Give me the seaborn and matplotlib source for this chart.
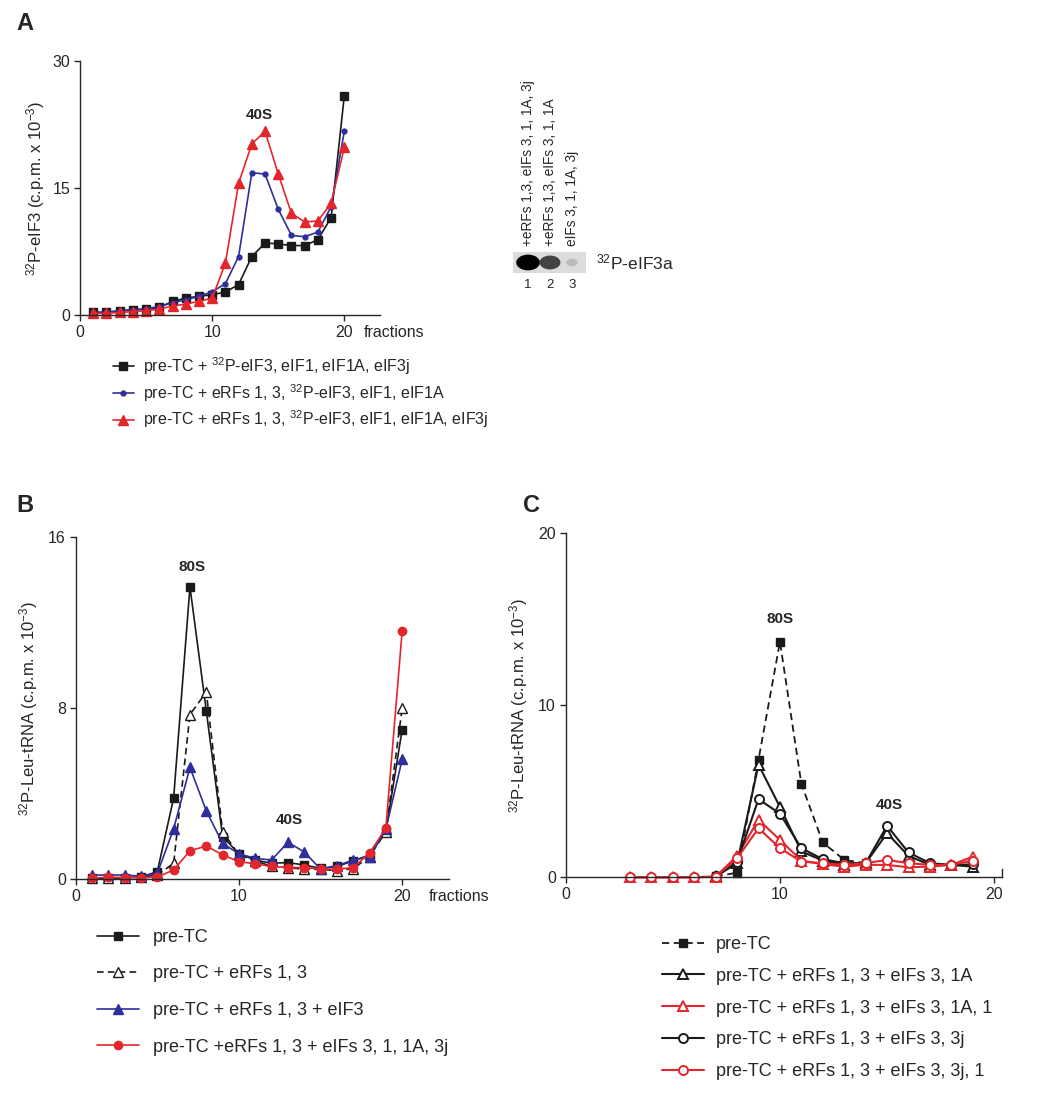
import numpy as np
import pandas as pd
import matplotlib
matplotlib.use('Agg')
import matplotlib.pyplot as plt
import seaborn as sns
from matplotlib.path import Path
from matplotlib.transforms import Affine2D

# ---- data ----
fractions = list(range(1, 21))

# panel A: 32P-eIF3 (c.p.m. x 10^-3)
a_pretc = [0.3, 0.3, 0.5, 0.6, 0.7, 0.9, 1.6, 2.0, 2.2, 2.4, 2.7, 3.6, 6.9, 8.5, 8.4, 8.2, 8.2, 8.9, 11.5, 25.9]
a_erfs = [0.3, 0.35, 0.5, 0.6, 0.75, 1.0, 1.45, 1.8, 2.2, 2.75, 3.7, 6.9, 16.8, 16.65, 12.5, 9.4, 9.25, 9.8, 12.8, 21.7]
a_erfs_3j = [0.2, 0.2, 0.3, 0.4, 0.5, 0.7, 1.05, 1.3, 1.6, 2.0, 6.1, 15.55, 20.2, 21.7, 16.65, 12.0, 11.0, 11.1, 13.2, 19.8]
a_labels = [r'pre-TC + $^{32}$P-eIF3, eIF1, eIF1A, eIF3j',
            r'pre-TC + eRFs 1, 3, $^{32}$P-eIF3, eIF1, eIF1A',
            r'pre-TC + eRFs 1, 3, $^{32}$P-eIF3, eIF1, eIF1A, eIF3j']

# gel lanes
gel_lanes = [1, 2, 3]
gel_band = [1.0, 0.7, 0.12]
gel_labels = ['+eRFs 1,3, eIFs 3, 1, 1A, 3j', '+eRFs 1,3, eIFs 3, 1, 1A', 'eIFs 3, 1, 1A, 3j']

# panel B: 32P-Leu-tRNA
b_pretc = [0.05, 0.05, 0.08, 0.1, 0.36, 3.8, 13.67, 7.88, 2.0, 1.19, 0.9, 0.75, 0.78, 0.67, 0.51, 0.6, 0.86, 1.14, 2.23, 7.0]
b_erfs = [0.05, 0.05, 0.08, 0.1, 0.2, 0.75, 7.7, 8.75, 2.23, 1.14, 0.87, 0.6, 0.55, 0.47, 0.47, 0.4, 0.5, 1.06, 2.23, 8.0]
b_eif3 = [0.2, 0.2, 0.2, 0.15, 0.28, 2.36, 5.23, 3.2, 1.68, 1.19, 0.98, 0.9, 1.73, 1.28, 0.48, 0.64, 0.9, 1.06, 2.34, 5.6]
b_eifs = [0.05, 0.1, 0.08, 0.08, 0.1, 0.44, 1.33, 1.56, 1.14, 0.83, 0.72, 0.6, 0.55, 0.55, 0.48, 0.47, 0.55, 1.22, 2.39, 11.6]
b_labels = ['pre-TC', 'pre-TC + eRFs 1, 3', 'pre-TC + eRFs 1, 3 + eIF3',
            'pre-TC +eRFs 1, 3 + eIFs 3, 1, 1A, 3j']

# panel C: 32P-Leu-tRNA
c_frac_pretc = [7, 8, 9, 10, 11, 12, 13, 14]
c_pretc = [0.05, 0.27, 6.83, 13.67, 5.42, 2.02, 1.01, 0.82]
c_frac_black = list(range(7, 20))
c_1a = [0.05, 0.82, 6.54, 4.08, 1.5, 0.97, 0.72, 0.82, 2.56, 1.24, 0.72, 0.72, 0.62]
c_3j = [0.05, 0.91, 4.54, 3.69, 1.69, 1.05, 0.82, 0.82, 2.99, 1.44, 0.82, 0.72, 0.75]
c_frac_red = list(range(3, 20))
c_1a_1 = [0.0, 0.0, 0.0, 0.0, 0.04, 1.24, 3.34, 2.17, 0.97, 0.76, 0.62, 0.72, 0.72, 0.58, 0.62, 0.72, 1.2]
c_3j_1 = [0.0, 0.0, 0.0, 0.0, 0.04, 1.1, 2.85, 1.69, 0.91, 0.82, 0.72, 0.82, 1.01, 0.82, 0.72, 0.72, 0.97]
c_labels = ['pre-TC', 'pre-TC + eRFs 1, 3 + eIFs 3, 1A', 'pre-TC + eRFs 1, 3 + eIFs 3, 1A, 1',
            'pre-TC + eRFs 1, 3 + eIFs 3, 3j', 'pre-TC + eRFs 1, 3 + eIFs 3, 3j, 1']

# ---- style ----
sns.set_style('ticks')
plt.rcParams['font.family'] = ['Liberation Sans', 'DejaVu Sans']
plt.rcParams['mathtext.default'] = 'regular'
plt.rcParams['axes.linewidth'] = 1.0
plt.rcParams['xtick.major.size'] = 4
plt.rcParams['ytick.major.size'] = 4
plt.rcParams['xtick.major.pad'] = 3
plt.rcParams['ytick.major.pad'] = 3
plt.rcParams['xtick.labelsize'] = 11.5
plt.rcParams['ytick.labelsize'] = 11.5

BLACK = '#1a1a1a'
BLUE = '#2e2e9c'
RED = '#e3262b'

fig = plt.figure(figsize=(10.5, 10.94), dpi=100)


def line(ax, x, y, label, color, marker, ms, mfc=None, ls='-', lw=1.2, mew=1.0, dashes=None):
    kw = dict(x=x, y=y, ax=ax, label=label, color=color, marker=marker, markersize=ms,
              markerfacecolor=mfc if mfc else color, markeredgecolor=color,
              markeredgewidth=mew, linewidth=lw, linestyle=ls, clip_on=False)
    l = sns.lineplot(**kw)
    if dashes is not None:
        l.get_lines()[-1].set_dashes(dashes)
    return l


def style_axes(ax):
    for s in ['top', 'right']:
        ax.spines[s].set_visible(False)
    ax.tick_params(direction='out', width=1.0)


def fractions_text(ax, xpos):
    ax.annotate('fractions', xy=(xpos, 0), xycoords=('data', 'axes fraction'),
                xytext=(0, -7), textcoords='offset points', ha='left', va='top', fontsize=11.5)


# ---- panel A ----
axA = fig.add_axes([80 / 1050, 1 - 315 / 1094, 300 / 1050, 254 / 1094])
line(axA, fractions, a_pretc, a_labels[0], BLACK, 's', 5.5)
line(axA, fractions, a_erfs, a_labels[1], BLUE, 'o', 3.5)
line(axA, fractions, a_erfs_3j, a_labels[2], RED, '^', 6.5)
axA.set_xlim(0, 22.7)
axA.set_ylim(0, 30)
axA.set_xticks([0, 10, 20])
axA.set_yticks([0, 15, 30])
axA.set_xlabel('')
axA.set_ylabel(r'$^{32}$P-eIF3 (c.p.m. x 10$^{-3}$)', fontsize=12, labelpad=4)
style_axes(axA)
fractions_text(axA, 21.45)
axA.text(13.6, 23.6, '40S', ha='center', va='center', fontsize=11, fontweight='bold')
axA.legend(loc='upper left', bbox_to_anchor=(113 / 1050, 1 - 355 / 1094), bbox_transform=fig.transFigure,
           frameon=False, fontsize=11.5, handlelength=1.3, handletextpad=0.6, labelspacing=0.32,
           borderpad=0, borderaxespad=0, numpoints=1)

# ---- gel ----
axG = fig.add_axes([512.7 / 1050, 1 - 273.3 / 1094, 73.3 / 1050, 21.6 / 1094])
axG.set_facecolor('#dcdcdc')
ellipse = Path.unit_circle().transformed(Affine2D().scale(1.5, 1.0))
gel_df = pd.DataFrame({'lane': gel_lanes, 'band': gel_band, 'y': [0, 0, 0]})
sizes = [290 * b ** 0.7 for b in gel_band]
greys = [plt.cm.Greys(0.3 + 0.7 * b) for b in gel_band]
axG.scatter(gel_df['lane'], gel_df['y'], s=sizes, marker=ellipse, c=greys, linewidths=0)
axG.set_xlim(0.3, 3.64)
axG.set_ylim(-1, 1)
axG.set_yticks([])
axG.set_xticks(gel_lanes)
axG.set_xticklabels([str(l) for l in gel_lanes], fontsize=9.5)
axG.tick_params(axis='x', length=0, pad=4)
for s in axG.spines.values():
    s.set_visible(False)
for lane, lab in zip(gel_lanes, gel_labels):
    axG.annotate(lab, xy=(lane, 1), xycoords=('data', 'axes fraction'), xytext=(0, 4),
                 textcoords='offset points', rotation=90, ha='center', va='bottom', fontsize=9.8)
axG.annotate(r'$^{32}$P-eIF3a', xy=(1, 0.5), xycoords='axes fraction', xytext=(7, 0),
             textcoords='offset points', ha='left', va='center', fontsize=12.5)

# ---- panel B ----
axB = fig.add_axes([75.7 / 1050, 1 - 879.3 / 1094, 373.3 / 1050, 342.3 / 1094])
line(axB, fractions, b_pretc, b_labels[0], BLACK, 's', 6)
line(axB, fractions, b_erfs, b_labels[1], BLACK, '^', 6.5, mfc='white', dashes=(4, 2.5))
line(axB, fractions, b_eif3, b_labels[2], BLUE, '^', 6.5)
line(axB, fractions, b_eifs, b_labels[3], RED, 'o', 6)
axB.set_xlim(0, 22.87)
axB.set_ylim(0, 16)
axB.set_xticks([0, 10, 20])
axB.set_yticks([0, 8, 16])
axB.set_xlabel('')
axB.set_ylabel(r'$^{32}$P-Leu-tRNA (c.p.m. x 10$^{-3}$)', fontsize=12, labelpad=6)
style_axes(axB)
fractions_text(axB, 21.6)
axB.text(7.1, 14.6, '80S', ha='center', va='center', fontsize=11, fontweight='bold')
axB.text(13.1, 2.78, '40S', ha='center', va='center', fontsize=11, fontweight='bold')
axB.legend(loc='upper left', bbox_to_anchor=(97 / 1050, 1 - 929 / 1094), bbox_transform=fig.transFigure,
           frameon=False, fontsize=13, handlelength=2.3, handletextpad=0.8, labelspacing=1.08,
           borderpad=0, borderaxespad=0, numpoints=1)

# ---- panel C ----
axC = fig.add_axes([565.7 / 1050, 1 - 877.3 / 1094, 436 / 1050, 344.6 / 1094])
line(axC, c_frac_pretc, c_pretc, c_labels[0], BLACK, 's', 5.5, lw=1.3, dashes=(4, 2.5))
line(axC, c_frac_black, c_1a, c_labels[1], BLACK, '^', 7.5, mfc='white', lw=1.5, mew=1.4)
line(axC, c_frac_red, c_1a_1, c_labels[2], RED, '^', 7.5, mfc='white', lw=1.5, mew=1.4)
line(axC, c_frac_black, c_3j, c_labels[3], BLACK, 'o', 6.5, mfc='white', lw=1.5, mew=1.4)
line(axC, c_frac_red, c_3j_1, c_labels[4], RED, 'o', 6.5, mfc='white', lw=1.5, mew=1.4)
axC.set_xlim(0, 20.35)
axC.set_ylim(0, 20)
axC.set_xticks([0, 10, 20])
axC.set_yticks([0, 10, 20])
axC.set_xlabel('')
axC.set_ylabel(r'$^{32}$P-Leu-tRNA (c.p.m. x 10$^{-3}$)', fontsize=12, labelpad=6)
style_axes(axC)
axC.spines['right'].set_visible(True)
axC.spines['right'].set_bounds(0, 0.5)
axC.text(10, 15.0, '80S', ha='center', va='center', fontsize=11, fontweight='bold')
axC.text(15.1, 4.2, '40S', ha='center', va='center', fontsize=11, fontweight='bold')
axC.legend(loc='upper left', bbox_to_anchor=(662 / 1050, 1 - 936 / 1094), bbox_transform=fig.transFigure,
           frameon=False, fontsize=13, handlelength=2.3, handletextpad=0.7, labelspacing=0.82,
           borderpad=0, borderaxespad=0, numpoints=1)

# ---- panel letters ----
fig.text(16 / 1050, 1 - 12 / 1094, 'A', fontsize=17, fontweight='bold', va='top', ha='left')
fig.text(16 / 1050, 1 - 494 / 1094, 'B', fontsize=17, fontweight='bold', va='top', ha='left')
fig.text(523 / 1050, 1 - 494 / 1094, 'C', fontsize=17, fontweight='bold', va='top', ha='left')

fig.savefig('out.png', dpi=100)
